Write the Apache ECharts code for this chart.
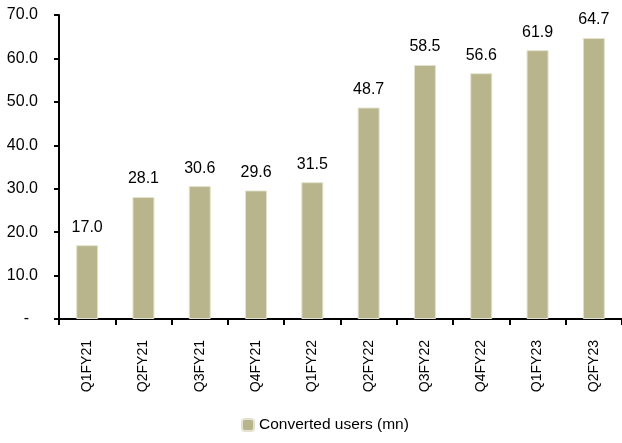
<!DOCTYPE html>
<html>
<head>
<meta charset="utf-8">
<script src="https://cdn.jsdelivr.net/npm/echarts@6/dist/echarts.min.js"></script>
<style>html,body{margin:0;padding:0;background:#fff;}#c{width:622px;height:443px;}</style>
</head>
<body>
<div id="c"></div>
<script>
var categories = ['Q1FY21','Q2FY21','Q3FY21','Q4FY21','Q1FY22','Q2FY22','Q3FY22','Q4FY22','Q1FY23','Q2FY23'];
var convertedUsers = [17.0, 28.1, 30.6, 29.6, 31.5, 48.7, 58.5, 56.6, 61.9, 64.7];
var seriesName = 'Converted users (mn)';
var yTicks = [0, 10, 20, 30, 40, 50, 60, 70];

var FONT = '"Liberation Sans", Arial, sans-serif';
var chart = echarts.init(document.getElementById('c'), null, {renderer: 'canvas'});
chart.setOption({
  animation: false,
  backgroundColor: '#ffffff',
  grid: {left: 59, top: 15, width: 567, height: 304, containLabel: false},
  legend: {
    bottom: 5, left: 236,
    itemWidth: 12, itemHeight: 12, itemGap: 10,
    textStyle: {fontFamily: FONT, fontSize: 15.5, color: '#000'},
    data: [seriesName]
  },
  xAxis: {
    type: 'category',
    data: categories,
    axisLine: {lineStyle: {color: '#000', width: 2}},
    axisTick: {show: true, length: 6, lineStyle: {color: '#000', width: 2}},
    axisLabel: {rotate: 90, margin: 21, fontFamily: FONT, fontSize: 14, color: '#000'}
  },
  yAxis: {
    type: 'value',
    min: yTicks[0], max: yTicks[yTicks.length - 1], interval: 10,
    splitLine: {show: false},
    axisLine: {show: true, lineStyle: {color: '#000', width: 2}},
    axisTick: {show: true, inside: false, length: 5, lineStyle: {color: '#000', width: 2}},
    axisLabel: {
      margin: 21, fontFamily: FONT, fontSize: 16, color: '#000',
      formatter: function (v) { return v === 0 ? '{d|-}' : v.toFixed(1); },
      rich: {d: {fontFamily: FONT, fontSize: 16, color: '#000', padding: [0, 9, 0, 0]}}
    }
  },
  series: [{
    name: seriesName,
    type: 'bar',
    data: convertedUsers,
    barWidth: 22,
    itemStyle: {color: '#B8B58D', borderColor: '#E4E2CF', borderWidth: 1},
    label: {
      show: true, position: 'top', distance: 10,
      fontFamily: FONT, fontSize: 16, color: '#000',
      formatter: function (p) { return p.value.toFixed(1); }
    }
  }]
});
</script>
</body>
</html>
